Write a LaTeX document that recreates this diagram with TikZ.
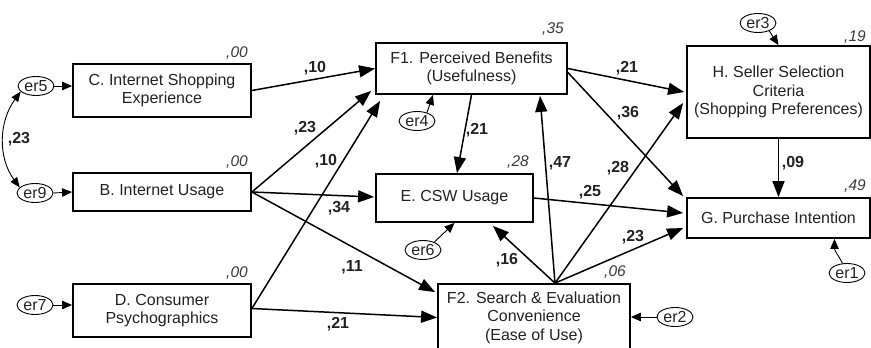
\documentclass[tikz,border=0pt]{standalone}
\usepackage{fontspec}
\setmainfont{Liberation Sans}
\usetikzlibrary{arrows.meta,shapes.geometric,calc}
\definecolor{ink}{HTML}{222222}
\definecolor{fit}{HTML}{3A3A3A}
\begin{document}
\begin{tikzpicture}[x=1pt,y=-1pt,
  every node/.style={font=\fontsize{16}{18.5}\selectfont, text=ink},
  box/.style={draw=black, line width=1.8pt, align=center, inner sep=0pt},
  err/.style={draw=black, line width=0.9pt, ellipse, minimum width=36pt, minimum height=19pt, inner sep=0pt},
  path/.style={line width=1.5pt, -{Triangle[length=16pt,width=12pt]}},
  errpath/.style={line width=0.9pt, -{Triangle[length=10pt,width=8.5pt]}},
  coef/.style={font=\fontsize{16}{18.5}\selectfont\bfseries},
  rsq/.style={font=\fontsize{15.5}{18}\selectfont\itshape, text=fit}]
\clip (0,0) rectangle (871,348);

% exogenous constructs
\node[box, minimum width=178pt, minimum height=53pt] (C) at (162,90.5) {C. Internet Shopping\\Experience};
\node[box, minimum width=178pt, minimum height=38pt] (B) at (162,192) {B. Internet Usage};
\node[box, minimum width=178pt, minimum height=53pt] (D) at (162,310.5) {D. Consumer\\Psychographics};

% mediators and outcomes
\node[box, minimum width=191pt, minimum height=51pt] (F1) at (471.5,68.5) {F1. Perceived Benefits\\(Usefulness)};
\node[box, minimum width=157pt, minimum height=48pt] (E) at (454.5,198) {E. CSW Usage};
\node[box, minimum width=192pt, minimum height=67pt] (F2) at (534,317.5) {F2. Search \& Evaluation\\Convenience\\(Ease of Use)};
\node[box, minimum width=183pt, minimum height=92pt] (H) at (778.5,92) {H. Seller Selection\\Criteria\\(Shopping Preferences)};
\node[box, minimum width=183pt, minimum height=40pt] (G) at (778.5,218) {G. Purchase Intention};

% error terms
\node[err] (er5) at (36,86) {er5};
\node[err] (er9) at (35,193) {er9};
\node[err] (er7) at (35,305) {er7};
\node[err] (er4) at (417,121) {er4};
\node[err] (er6) at (423,250) {er6};
\node[err] (er3) at (758,23) {er3};
\node[err] (er2) at (675,317) {er2};
\node[err] (er1) at (847,273) {er1};

\draw[errpath] (er5.east) -- (C.west |- er5.east);
\draw[errpath] (er9.east) -- (B.west);
\draw[errpath] (er7.east) -- (D.west |- er7.east);
\draw[errpath] (er4.40) -- ([xshift=-38.5pt]F1.south);
\draw[errpath] (er6.35) -- (E.south);
\draw[errpath] (er3.-35) -- (H.north);
\draw[errpath] (er2.west) -- (F2.east |- er2.west);
\draw[errpath] (er1.115) .. controls +(-4,-8) and +(0,12) .. ([xshift=56pt]G.south);

% correlation of the errors
\draw[line width=0.9pt, {Triangle[length=10pt,width=8pt]}-{Triangle[length=10pt,width=8pt]}]
  (er5.200) .. controls +(-22,30) and +(-22,-30) .. (er9.160);

% structural paths
\coordinate (hub) at ([xshift=21pt]F2.north);
\draw[path] (C.east) -- (F1.west);
\draw[path] (B.east) -- ([shift={(-4,-4)}]F1.south west);
\draw[path] ([yshift=2pt]D.east) -- ([shift={(5,6)}]F1.south west);
\draw[path] (B.east) -- ([shift={(-1,-1)}]E.west);
\draw[path] (B.east) -- ([shift={(-2,9)}]F2.north west);
\draw[path] ([yshift=2pt]D.east) -- (F2.west);
\draw[path] (F1.south) -- ([xshift=2.5pt]E.north);
\draw[path] (hub) -- ([shift={(68.5,1)}]F1.south);
\draw[path] (hub) -- ([shift={(-41,3)}]E.south east);
\draw[path] (hub) -- ([shift={(-3,11)}]H.west);
\draw[path] (hub) -- ([shift={(-3,10)}]G.west);
\draw[path] (E.east) -- ([shift={(-3,-5)}]G.west);
\draw[path] (F1.east) -- ([xshift=-2pt]H.west);
\draw[path] ([yshift=-4pt]F1.east) -- ([shift={(-3,-1)}]G.north west);
\draw[path] (H.south) -- (G.north);

% path coefficients
\node[coef] (k1) at (315,68) {,10};
\node[coef] (k2) at (305,128) {,23};
\node[coef] (k3) at (326,161) {,10};
\node[coef] (k4) at (339,208) {,34};
\node[coef] (k5) at (352,267) {,11};
\node[coef] (k6) at (338,324) {,21};
\node[coef] (k7) at (477,130) {,21};
\node[coef] (k8) at (560,163) {,47};
\node[coef] (k9) at (507,260) {,16};
\node[coef] (k10) at (618,168) {,28};
\node[coef] (k11) at (633,237) {,23};
\node[coef] (k12) at (590,192) {,25};
\node[coef] (k13) at (627,68) {,21};
\node[coef] (k14) at (628,113) {,36};
\node[coef] (k15) at (793,163) {,09};
\node[coef] (k16) at (19,139) {,23};

% explained variance
\node[rsq] (r1) at (237,53) {,00};
\node[rsq] (r2) at (237,162) {,00};
\node[rsq] (r3) at (237,273) {,00};
\node[rsq] (r4) at (553,29) {,35};
\node[rsq] (r5) at (518,162) {,28};
\node[rsq] (r6) at (615,272) {,06};
\node[rsq] (r7) at (855,37) {,19};
\node[rsq] (r8) at (855,186) {,49};
\end{tikzpicture}
\end{document}
